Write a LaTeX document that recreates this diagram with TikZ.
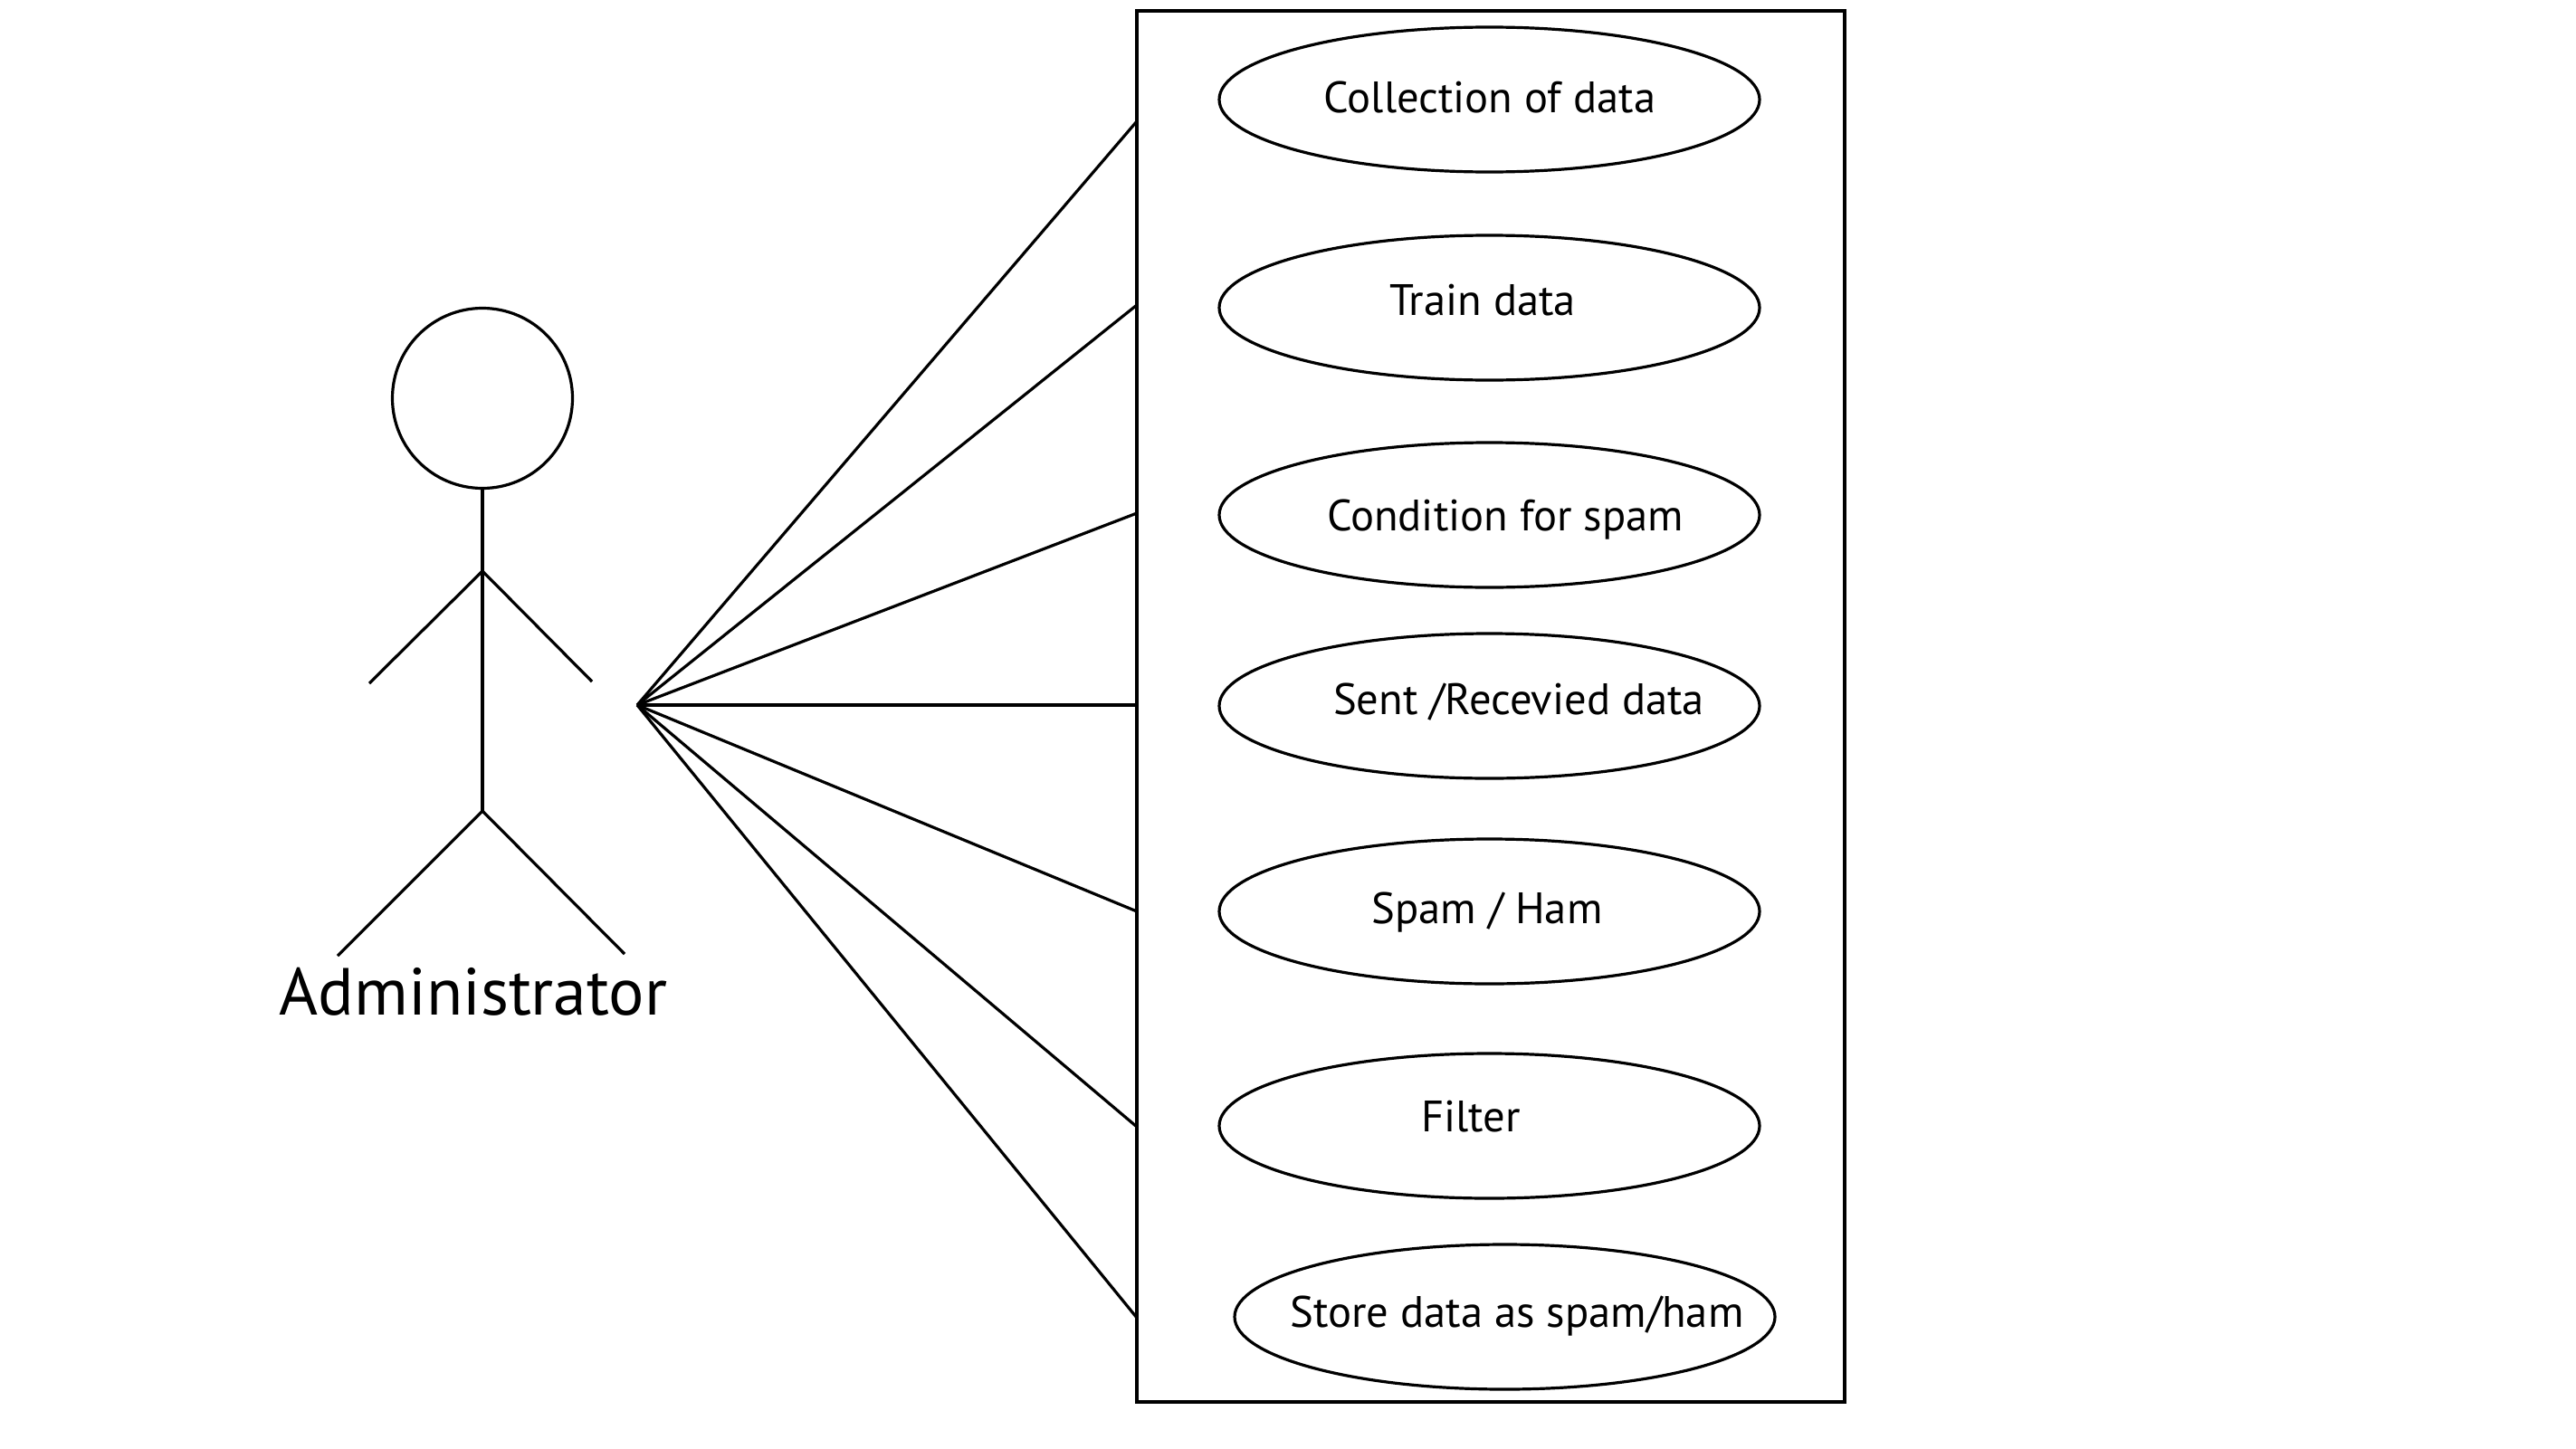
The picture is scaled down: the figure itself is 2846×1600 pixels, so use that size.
\documentclass[tikz,border=0pt]{standalone}
\usepackage{fontspec}
\setmainfont{PT Sans}
\usetikzlibrary{shapes.geometric}
\tikzset{
  usecase/.style={draw=black,line width=1.6pt,ellipse,minimum width=298.5pt,minimum height=80pt,inner sep=0pt},
  lbl/.style={anchor=base,inner sep=0pt,font=\fontsize{24.3}{30}\selectfont},
  stick/.style={line width=1.6pt,line cap=butt},
  link/.style={line width=1.6pt},
  sysbox/.style={draw=black,line width=2pt,fill=none}
}
\begin{document}
\begin{tikzpicture}[x=0.5pt,y=-0.5pt]
\useasboundingbox (0,0) rectangle (2846,1600);
\fill[white] (0,0) rectangle (2846,1600);
% system boundary
\draw[sysbox] (1256,12) rectangle (2038,1549);
% use cases
\node[usecase] (u1) at (1645.5,110) {};
\node[usecase] (u2) at (1645.5,340) {};
\node[usecase] (u3) at (1645.5,569) {};
\node[usecase] (u4) at (1645.5,780) {};
\node[usecase] (u5) at (1645.5,1007) {};
\node[usecase] (u6) at (1645.5,1244) {};
\node[usecase] (u7) at (1662.5,1455) {};
\node[lbl] (t1) at (1646,125) {Collection of data};
\node[lbl] (t2) at (1638,348) {Train data};
\node[lbl] (t3) at (1663,586) {Condition for spam};
\node[lbl] (t4) at (1678,789) {Sent /Recevied data};
\node[lbl] (t5) at (1643,1020) {Spam / Ham};
\node[lbl] (t6) at (1625,1250) {Filter};
\node[lbl] (t7) at (1676,1466) {Store data as spam/ham};
% actor
\node[draw=black,line width=1.6pt,circle,minimum size=99.5pt,inner sep=0pt] (head) at (533,440) {};
\coordinate (shoulder) at (533,631);
\coordinate (hip) at (533,896);
\coordinate (handL) at (408,755);
\coordinate (handR) at (654,753);
\coordinate (footL) at (373,1056);
\coordinate (footR) at (690,1054);
\draw[stick] (head.south) -- (shoulder) -- (hip);
\draw[stick] (handL) -- (shoulder) -- (handR);
\draw[stick] (footL) -- (hip) -- (footR);
\node[anchor=base,inner sep=0pt,font=\fontsize{36.8}{44}\selectfont] (admin) at (523,1121) {Administrator};
% connectors
\coordinate (hub) at (704,779);
\coordinate (p1) at (1256,134);
\coordinate (p2) at (1256,337);
\coordinate (p3) at (1256,567);
\coordinate (p4) at (1256,779);
\coordinate (p5) at (1256,1007);
\coordinate (p6) at (1256,1245);
\coordinate (p7) at (1256,1456);
\foreach \i in {1,...,7} \draw[link] (hub) -- (p\i);
\end{tikzpicture}
\end{document}
